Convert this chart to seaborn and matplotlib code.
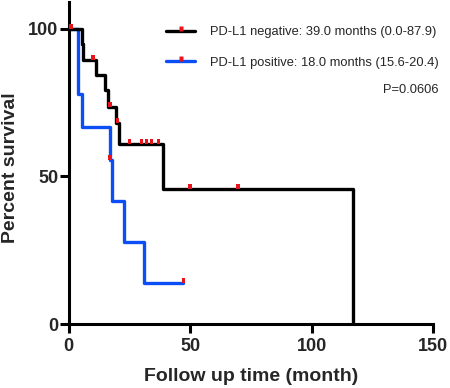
import numpy as np
import pandas as pd
import matplotlib
matplotlib.use("Agg")
import matplotlib.pyplot as plt
from matplotlib.path import Path
from matplotlib.lines import Line2D
import seaborn as sns

# ---- data ----
neg_time = [0, 5.4, 6.1, 11.2, 15.0, 16.4, 19.4, 20.8, 39.0, 117.1]
neg_surv = [100, 94.7, 89.4, 84.3, 79.4, 73.6, 68.1, 61.1, 45.8, 0]
neg_cens_time = [1.0, 10.1, 17.1, 20.1, 25.0, 29.9, 32.2, 34.1, 37.1, 50.0, 69.7]
neg_cens_surv = [100, 89.4, 73.6, 68.1, 61.1, 61.1, 61.1, 61.1, 61.1, 45.8, 45.8]

pos_time = [0, 4.0, 5.5, 17.0, 18.0, 23.0, 31.2, 47.2]
pos_surv = [100, 77.8, 66.7, 55.6, 41.7, 27.8, 13.9, 13.9]
pos_cens_time = [17.1, 47.2]
pos_cens_surv = [55.6, 13.9]

labels = ["PD-L1 negative: 39.0 months (0.0-87.9)",
          "PD-L1 positive: 18.0 months (15.6-20.4)"]
p_text = "P=0.0606"
x_ticks = [0, 50, 100, 150]
y_ticks = [0, 50, 100]

BLACK = "#000000"
BLUE = "#0B4EF5"
RED = "#E8141B"

sns.set_style("ticks")
plt.rcParams["font.family"] = ["Liberation Sans", "DejaVu Sans"]

fig = plt.figure(figsize=(4.5, 3.88), dpi=100)
ax = fig.add_axes([68.5 / 450, 1 - 324.3 / 388, (433 - 68.5) / 450, (324.3 - 2) / 388])

neg_df = pd.DataFrame({"t": neg_time, "s": neg_surv})
pos_df = pd.DataFrame({"t": pos_time, "s": pos_surv})
lw = 2.4
sns.lineplot(data=pos_df, x="t", y="s", ax=ax, color=BLUE, lw=lw,
             drawstyle="steps-post", estimator=None, sort=False, zorder=2)
sns.lineplot(data=neg_df, x="t", y="s", ax=ax, color=BLACK, lw=lw,
             drawstyle="steps-post", estimator=None, sort=False, zorder=3)

# censor mark: small red rectangle sitting on top of the line
cens_marker = Path([(-0.33, 0.0), (0.33, 0.0), (0.33, 1.0), (-0.33, 1.0), (-0.33, 0.0)],
                   [Path.MOVETO, Path.LINETO, Path.LINETO, Path.LINETO, Path.CLOSEPOLY])
ms = 7.2
cens_df = pd.DataFrame({"t": neg_cens_time + pos_cens_time,
                        "s": neg_cens_surv + pos_cens_surv})
sns.scatterplot(data=cens_df, x="t", y="s", ax=ax, marker=cens_marker, s=ms ** 2,
                color=RED, edgecolor="none", linewidth=0, zorder=4)

ax.set_xlim(0, 150)
ax.set_ylim(0, 109)
ax.set_xticks(x_ticks)
ax.set_yticks(y_ticks)
ax.set_xticklabels([str(v) for v in x_ticks], fontsize=13, fontweight="bold")
ax.set_yticklabels([str(v) for v in y_ticks], fontsize=13, fontweight="bold")
ax.tick_params(axis="both", direction="out", length=6.5, width=2.2, color="black")
ax.tick_params(axis="x", pad=3.5)
ax.tick_params(axis="y", pad=1)
for side in ["left", "bottom"]:
    ax.spines[side].set_linewidth(2.2)
    ax.spines[side].set_color("black")
for side in ["top", "right"]:
    ax.spines[side].set_visible(False)

ax.set_xlabel("Follow up time (month)", fontsize=14, fontweight="bold", labelpad=9)
ax.set_ylabel("Percent survival", fontsize=14, fontweight="bold")
ax.yaxis.set_label_coords(-0.136, 0.485)

handles = [Line2D([], [], color=BLACK, lw=lw, marker=cens_marker, markersize=ms,
                  markerfacecolor=RED, markeredgecolor="none"),
           Line2D([], [], color=BLUE, lw=lw, marker=cens_marker, markersize=ms,
                  markerfacecolor=RED, markeredgecolor="none")]
ax.legend(handles, labels, loc="upper left", bbox_to_anchor=(166 / 450, 1 - 26 / 388),
          bbox_transform=fig.transFigure, frameon=False, fontsize=9.3,
          handlelength=2.25, handletextpad=1.15, labelspacing=1.45,
          borderpad=0, borderaxespad=0, numpoints=1)

fig.text(438 / 450, 1 - 90 / 388, p_text, ha="right", va="center", fontsize=9.3)

fig.savefig("out.png", dpi=100)
